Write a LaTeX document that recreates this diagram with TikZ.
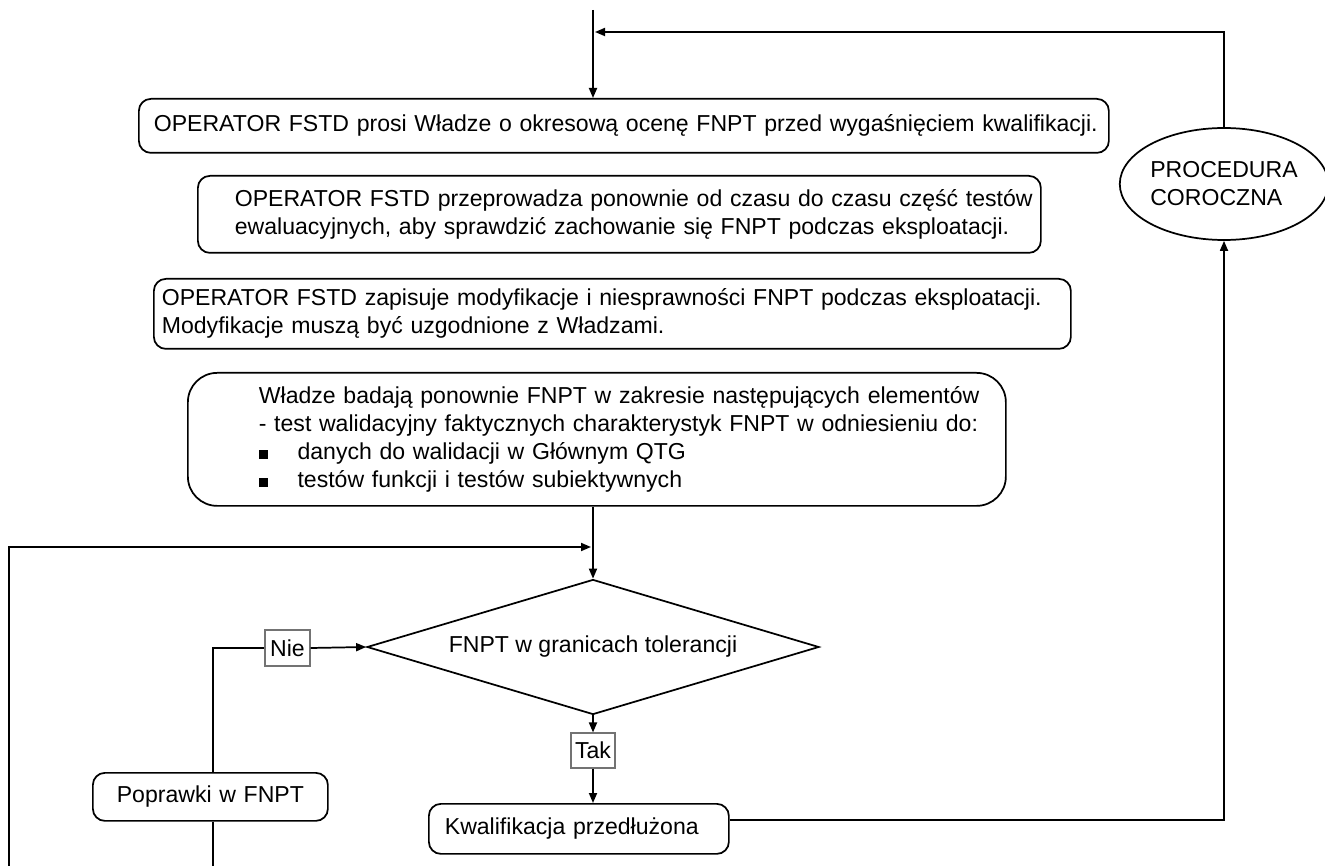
\documentclass[tikz,border=0pt]{standalone}
\usepackage{fontspec}
\setmainfont{Liberation Sans}
\usetikzlibrary{arrows.meta,shapes.geometric}

\begin{document}
\begin{tikzpicture}[x=0.75pt,y=0.75pt,yscale=-1,xscale=1,
  every node/.style={font=\fontsize{17.3}{21}\selectfont},
  okno/.style={draw, rounded corners=9pt, line width=1.3pt, align=left, anchor=north west, inner xsep=6pt, inner ysep=0pt},
  znak/.style={draw=black!55, line width=0.8pt, inner sep=0pt},
  lin/.style={line width=1.3pt},
  strz/.style={line width=1.3pt, -{Triangle[length=7.5pt,width=6pt]}}]
%set diagram size
\useasboundingbox (0,0) rectangle (1325,866);

%Rounded Rect [id:wniosek]
\draw (138,98) node [okno, text width=715.5pt, minimum height=40.5pt] (wniosek) {\leftskip=5.25pt OPERATOR FSTD prosi Władze o okresową ocenę FNPT przed wygaśnięciem kwalifikacji.\par};
%Rounded Rect [id:testy]
\draw (197,175) node [okno, text width=620.25pt, minimum height=57.75pt] (testy) {\leftskip=21.75pt OPERATOR FSTD przeprowadza ponownie od czasu do czasu część testów\\ewaluacyjnych, aby sprawdzić zachowanie się FNPT podczas eksploatacji.\par};
%Rounded Rect [id:zapis]
\draw (153,278) node [okno, text width=675.75pt, minimum height=52.5pt] (zapis) {OPERATOR FSTD zapisuje modyfikacje i niesprawności FNPT podczas eksploatacji.\\Modyfikacje muszą być uzgodnione z Władzami.};
%Rounded Rect [id:ocena]
\draw (187,372) node [okno, rounded corners=22pt, text width=601.5pt, minimum height=99.75pt] (ocena) {\leftskip=47.25pt Władze badają ponownie FNPT w zakresie następujących elementów\\- test walidacyjny faktycznych charakterystyk FNPT w odniesieniu do:\\\makebox[29pt][l]{\rule{7pt}{7pt}}danych do walidacji w Głównym QTG\\\makebox[29pt][l]{\rule{7pt}{7pt}}testów funkcji i testów subiektywnych\par};
%Shape: Diamond [id:tolerancja]
\draw (593,647) node [diamond, draw, line width=1.3pt, aspect=3.35, minimum width=339pt, minimum height=101.25pt, inner sep=0pt] (tolerancja) {FNPT w granicach tolerancji};
%Shape: Ellipse [id:coroczna]
\draw (1224,184) node [ellipse, draw, line width=1.3pt, minimum width=148.5pt, minimum height=84pt, inner sep=0pt, align=left] (coroczna) {PROCEDURA\\COROCZNA};
%Rounded Rect [id:poprawki]
\draw (92,772) node [okno, align=center, text width=164.25pt, minimum height=36pt] (poprawki) {Poprawki w FNPT};
%Rounded Rect [id:kwalifikacja]
\draw (428,803) node [okno, text width=213pt, minimum height=37.5pt] (kwalifikacja) {\leftskip=6pt Kwalifikacja przedłużona\par};
% Text Node
\draw (287.5,648) node [znak, minimum width=33.75pt, minimum height=27pt] (nie) {Nie};
% Text Node
\draw (593,750.5) node [znak, minimum width=33pt, minimum height=26.25pt] (tak) {Tak};

%free ends of the lines
\coordinate (start) at (593,10);
\coordinate (powrot) at (595,32);
\coordinate (lewy) at (9,866);
\coordinate (wejscie) at (591,547);
\coordinate (dol) at (213,866);

%Straight Lines
\draw [strz] (start) -- (start |- wniosek.north);
\draw [strz] ([yshift=-6.75pt]kwalifikacja.east) -| (coroczna.south);
\draw [strz] (coroczna.north) |- (powrot);
\draw [strz] (tolerancja.north |- ocena.south) -- (tolerancja.north);
\draw [strz] (lewy) |- (wejscie);
\draw [lin] (dol |- poprawki.south) -- (dol);
\draw [lin] (dol |- poprawki.north) |- (nie.west);
\draw [strz] (nie.east) -- (tolerancja.west);
\draw [strz] (tolerancja.south) -- (tak.north);
\draw [strz] (tak.south) -- (tak.south |- kwalifikacja.north);

\end{tikzpicture}
\end{document}
